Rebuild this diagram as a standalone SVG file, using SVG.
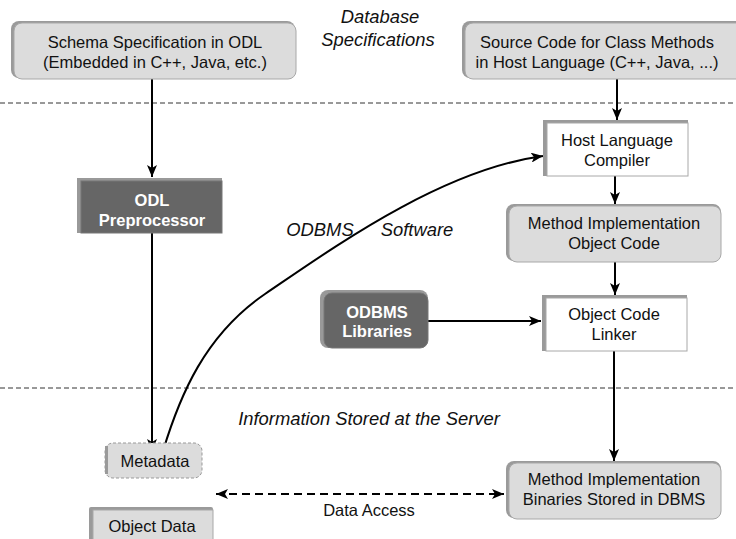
<svg xmlns="http://www.w3.org/2000/svg" width="736" height="539" viewBox="0 0 736 539">
<defs>
<style>
.t{font-family:"Liberation Sans",Arial,sans-serif;font-size:16.5px;fill:#111;text-anchor:middle}
.tw{font-family:"Liberation Sans",Arial,sans-serif;font-size:16.5px;font-weight:bold;fill:#fff;text-anchor:middle}
.it{font-family:"Liberation Sans",Arial,sans-serif;font-size:18.4px;font-style:italic;fill:#111;text-anchor:middle}
.sh{fill:#9a9a9a}
.gray{fill:#dcdcdc;stroke:#a8a8a8;stroke-width:1}
.white{fill:#fff;stroke:#a8a8a8;stroke-width:1}
.dark{fill:#666;stroke:#777;stroke-width:1}
.sep{stroke:#333;stroke-width:1;stroke-dasharray:5 3;fill:none}
.ln{stroke:#000;stroke-width:2;fill:none}
</style>
<marker id="ah" viewBox="0 0 12 10" refX="12" refY="5" markerWidth="12" markerHeight="10" markerUnits="userSpaceOnUse" orient="auto-start-reverse">
<path d="M0,0 L12,5 L0,10 L3,5 Z" fill="#000"/>
</marker>
</defs>

<line class="sep" x1="0" y1="103" x2="736" y2="103"/>
<line class="sep" x1="0" y1="388" x2="736" y2="388"/>

<text class="it" x="380" y="23">Database</text>
<text class="it" x="378" y="46">Specifications</text>
<text class="it" x="369" y="425">Information Stored at the Server</text>
<text class="it" x="320" y="236">ODBMS</text>
<text class="it" x="417" y="236">Software</text>

<g id="connectors">
<line class="ln" x1="152" y1="79" x2="152" y2="177" marker-end="url(#ah)"/>
<line class="ln" x1="152" y1="233" x2="152" y2="451" marker-end="url(#ah)"/>
<line class="ln" x1="617" y1="79" x2="617" y2="120" marker-end="url(#ah)"/>
<line class="ln" x1="615" y1="176" x2="615" y2="204" marker-end="url(#ah)"/>
<line class="ln" x1="615" y1="262" x2="615" y2="295" marker-end="url(#ah)"/>
<line class="ln" x1="428" y1="321" x2="541" y2="321" marker-end="url(#ah)"/>
<line class="ln" x1="614" y1="351" x2="614" y2="461" marker-end="url(#ah)"/>
<path class="ln" d="M163,451 C180,395 205,335 265,294 C330,250 440,170 543,156" marker-end="url(#ah)"/>
<line class="ln" x1="216" y1="494" x2="504" y2="494" stroke-dasharray="8 5" marker-start="url(#ah)" marker-end="url(#ah)"/>
<text class="t" x="369" y="516">Data Access</text>
</g>

<g id="schema">
<rect class="sh" x="11" y="21" width="284" height="57" rx="8"/>
<rect class="gray" x="14" y="23" width="282" height="56" rx="8"/>
<text class="t" x="155" y="48">Schema Specification in ODL</text>
<text class="t" x="155" y="68">(Embedded in C++, Java, etc.)</text>
</g>

<g id="source">
<rect class="sh" x="462" y="21" width="284" height="57" rx="8"/>
<rect class="gray" x="465" y="23" width="282" height="56" rx="8"/>
<text class="t" x="597" y="48">Source Code for Class Methods</text>
<text class="t" x="597" y="68">in Host Language (C++, Java, ...)</text>
</g>

<g id="odl">
<rect fill="#999" x="77" y="178" width="145" height="55"/>
<rect class="dark" x="81" y="181" width="141" height="52"/>
<text class="tw" x="152" y="206">ODL</text>
<text class="tw" x="152" y="226">Preprocessor</text>
</g>

<g id="compiler">
<rect class="sh" x="543" y="120" width="145" height="56"/>
<rect class="white" x="547" y="123" width="141" height="53"/>
<text class="t" x="617" y="146">Host Language</text>
<text class="t" x="617" y="166">Compiler</text>
</g>

<g id="objcode">
<rect class="sh" x="506" y="204" width="215" height="57" rx="8"/>
<rect class="gray" x="509" y="206" width="212" height="56" rx="8"/>
<text class="t" x="614" y="229">Method Implementation</text>
<text class="t" x="614" y="249">Object Code</text>
</g>

<g id="libraries">
<rect fill="#999" x="320" y="290" width="108" height="58" rx="8"/>
<rect class="dark" x="324" y="293" width="104" height="55" rx="8"/>
<text class="tw" x="377" y="318">ODBMS</text>
<text class="tw" x="377" y="337">Libraries</text>
</g>

<g id="linker">
<rect class="sh" x="542" y="295" width="145" height="56"/>
<rect class="white" x="546" y="298" width="141" height="53"/>
<text class="t" x="614" y="320">Object Code</text>
<text class="t" x="614" y="340">Linker</text>
</g>

<g id="metadata">
<rect x="105" y="443" width="97" height="35" rx="8" fill="#dcdcdc" stroke="#999" stroke-width="1" stroke-dasharray="3 2"/>
<rect x="105" y="446" width="3" height="28" fill="#9a9a9a"/>
<text class="t" x="155" y="467">Metadata</text>
</g>

<g id="objectdata">
<rect class="sh" x="89" y="507" width="124" height="40" rx="2"/>
<rect class="gray" x="93" y="510" width="120" height="37"/>
<text class="t" x="152" y="532">Object Data</text>
</g>

<g id="binaries">
<rect class="sh" x="506" y="461" width="215" height="57" rx="8"/>
<rect class="gray" x="509" y="463" width="212" height="56" rx="8"/>
<text class="t" x="614" y="485">Method Implementation</text>
<text class="t" x="614" y="505">Binaries Stored in DBMS</text>
</g>
</svg>
